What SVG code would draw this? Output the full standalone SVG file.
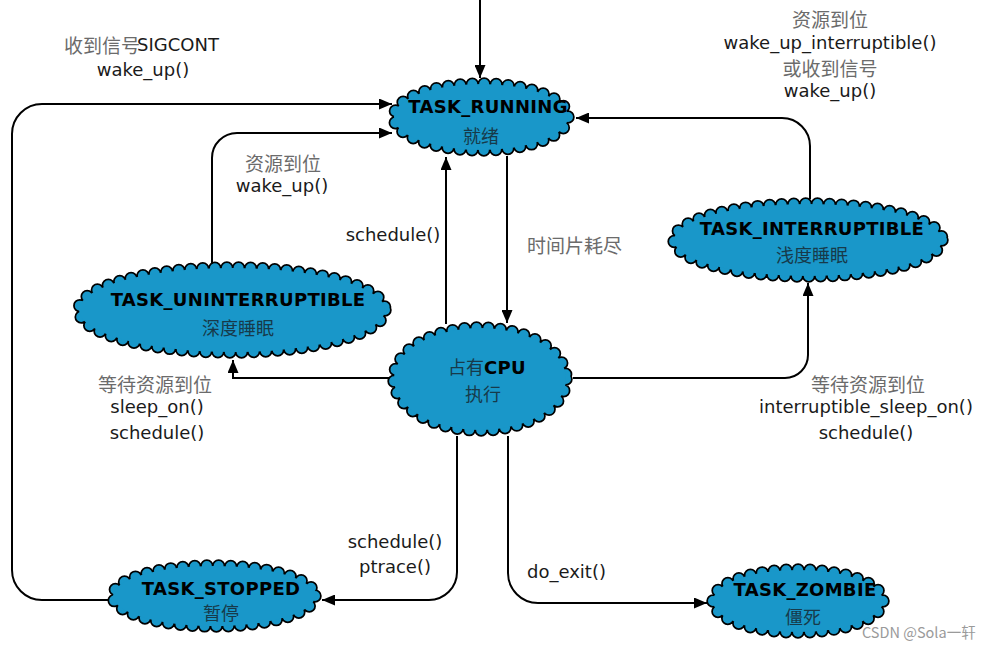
<svg xmlns="http://www.w3.org/2000/svg" width="1000" height="649" viewBox="0 0 1000 649">
<style>
.bg{fill:#ffffff}
.c1{fill:none;stroke:#000;stroke-width:13.5;stroke-dasharray:0 12;stroke-linecap:round}
.c2{fill:none;stroke:#1997c9;stroke-width:10;stroke-dasharray:0 12;stroke-linecap:round}
.c3{fill:#1997c9;stroke:none}
.nt{font-family:"DejaVu Sans","Liberation Sans",sans-serif;font-weight:bold;font-size:18px;fill:#000;text-anchor:middle;letter-spacing:0.3px}
.nc{font-family:"Noto Sans CJK SC","DejaVu Sans",sans-serif;font-size:18px;fill:#173a4a;text-anchor:middle}
.lc{font-family:"Noto Sans CJK SC","DejaVu Sans",sans-serif;font-size:19px;fill:#6b6b6b;text-anchor:middle}
.le{font-family:"DejaVu Sans","Liberation Sans",sans-serif;font-size:18px;fill:#1a1a1a;text-anchor:middle}
.ln{fill:none;stroke:#000;stroke-width:2}
</style>
<defs>
<marker id="ah" markerWidth="13" markerHeight="11" refX="13" refY="5.5" orient="auto" markerUnits="userSpaceOnUse">
<path d="M0,0 L13,5.5 L0,11 z" fill="#000"/>
</marker>
</defs>
<rect class="bg" x="0" y="0" width="1000" height="649"/>

<g id="node-running">
<ellipse class="c1" cx="481" cy="117" rx="87" ry="33"/>
<ellipse class="c2" cx="481" cy="117" rx="87" ry="33"/>
<ellipse class="c3" cx="481" cy="117" rx="87" ry="33"/>
<text class="nt" x="488" y="113">TASK_RUNNING</text>
<text class="nc" x="481" y="143">就绪</text>
</g>

<g id="node-interruptible">
<ellipse class="c1" cx="808" cy="240" rx="134" ry="36"/>
<ellipse class="c2" cx="808" cy="240" rx="134" ry="36"/>
<ellipse class="c3" cx="808" cy="240" rx="134" ry="36"/>
<text class="nt" x="812" y="235">TASK_INTERRUPTIBLE</text>
<text class="nc" x="812" y="262">浅度睡眠</text>
</g>

<g id="node-uninterruptible">
<ellipse class="c1" cx="232" cy="310" rx="153" ry="42"/>
<ellipse class="c2" cx="232" cy="310" rx="153" ry="42"/>
<ellipse class="c3" cx="232" cy="310" rx="153" ry="42"/>
<text class="nt" x="238" y="306">TASK_UNINTERRUPTIBLE</text>
<text class="nc" x="238" y="335">深度睡眠</text>
</g>

<g id="node-cpu">
<ellipse class="c1" cx="480" cy="379" rx="86" ry="51"/>
<ellipse class="c2" cx="480" cy="379" rx="86" ry="51"/>
<ellipse class="c3" cx="480" cy="379" rx="86" ry="51"/>
<text x="448" y="374" style="text-anchor:start"><tspan class="nc" style="text-anchor:start">占有</tspan><tspan class="nt" style="text-anchor:start">CPU</tspan></text>
<text class="nc" x="483" y="401">执行</text>
</g>

<g id="node-stopped">
<ellipse class="c1" cx="214" cy="596" rx="101" ry="30"/>
<ellipse class="c2" cx="214" cy="596" rx="101" ry="30"/>
<ellipse class="c3" cx="214" cy="596" rx="101" ry="30"/>
<text class="nt" x="221" y="595">TASK_STOPPED</text>
<text class="nc" x="221" y="620">暂停</text>
</g>

<g id="node-zombie">
<ellipse class="c1" cx="798" cy="601" rx="85" ry="31"/>
<ellipse class="c2" cx="798" cy="601" rx="85" ry="31"/>
<ellipse class="c3" cx="798" cy="601" rx="85" ry="31"/>
<text class="nt" x="805" y="596">TASK_ZOMBIE</text>
<text class="nc" x="803" y="624">僵死</text>
</g>

<g id="connectors">
<path class="ln" d="M480 0 V78" marker-end="url(#ah)"/>
<path class="ln" d="M108 600 H42 A30 30 0 0 1 12 570 V134 A30 30 0 0 1 42 104 H392" marker-end="url(#ah)"/>
<path class="ln" d="M212 264 V158 A25 25 0 0 1 237 133 H392" marker-end="url(#ah)"/>
<path class="ln" d="M446 324 V157" marker-end="url(#ah)"/>
<path class="ln" d="M507 156 V323" marker-end="url(#ah)"/>
<path class="ln" d="M810 199 V146 A28 28 0 0 0 782 118 H576" marker-end="url(#ah)"/>
<path class="ln" d="M573 378 H785 A23 23 0 0 0 808 355 V283" marker-end="url(#ah)"/>
<path class="ln" d="M389 378 H233 V360" marker-end="url(#ah)"/>
<path class="ln" d="M457 436 V572 A28 28 0 0 1 429 600 H322" marker-end="url(#ah)"/>
<path class="ln" d="M508 436 V573 A30 30 0 0 0 538 603 H707" marker-end="url(#ah)"/>
</g>

<g id="labels">
<text class="lc" x="64" y="53" style="text-anchor:start">收到信号</text>
<text class="le" x="137" y="51" style="text-anchor:start">SIGCONT</text>
<text class="le" x="143" y="76">wake_up()</text>

<text class="lc" x="830" y="27">资源到位</text>
<text class="le" x="830" y="49">wake_up_interruptible()</text>
<text class="lc" x="830" y="76">或收到信号</text>
<text class="le" x="830" y="97">wake_up()</text>

<text class="lc" x="283" y="171">资源到位</text>
<text class="le" x="282" y="192">wake_up()</text>

<text class="le" x="393" y="241">schedule()</text>
<text class="lc" x="527" y="253" style="text-anchor:start">时间片耗尽</text>

<text class="lc" x="155" y="392">等待资源到位</text>
<text class="le" x="157" y="413">sleep_on()</text>
<text class="le" x="157" y="439">schedule()</text>

<text class="lc" x="868" y="392">等待资源到位</text>
<text class="le" x="866" y="413">interruptible_sleep_on()</text>
<text class="le" x="866" y="439">schedule()</text>

<text class="le" x="395" y="548">schedule()</text>
<text class="le" x="395" y="573">ptrace()</text>
<text class="le" x="527" y="578" style="text-anchor:start">do_exit()</text>

<text x="862" y="638" style="font-family:'Noto Sans CJK SC','DejaVu Sans',sans-serif;font-size:14.5px;fill:#9a9a9a">CSDN @Sola一轩</text>
</g>
</svg>
